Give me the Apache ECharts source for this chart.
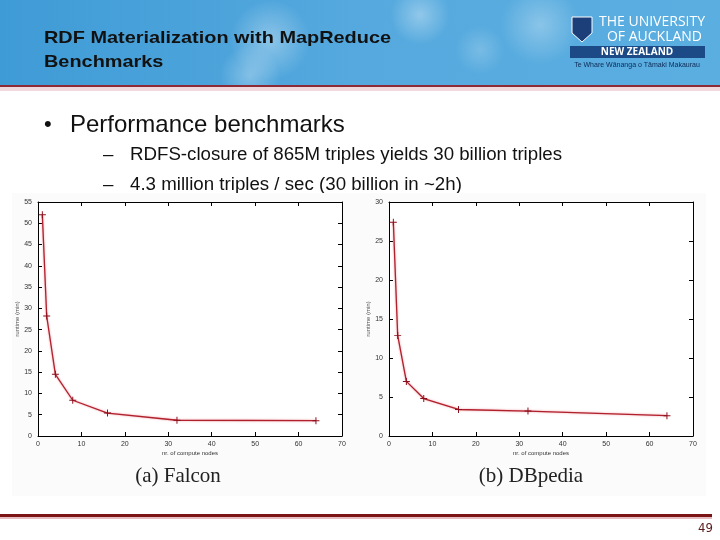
<!DOCTYPE html>
<html>
<head>
<meta charset="utf-8">
<script src="https://cdn.jsdelivr.net/npm/echarts@6/dist/echarts.min.js"></script>
<style>html,body{margin:0;padding:0;background:#fff}#c{width:720px;height:540px}</style>
</head>
<body>
<div id="c"></div>
<script>
// Data
const nodes = [1, 2, 4, 8, 16, 32, 64];
const falconRuntime = [52, 28.2, 14.5, 8.4, 5.4, 3.7, 3.6];
const dbpediaRuntime = [27.4, 12.9, 7.0, 4.8, 3.4, 3.2, 2.6];
const xTicks = [0, 10, 20, 30, 40, 50, 60, 70];
const falconYMax = 55;
const dbpediaYMax = 30;
const titleLines = ['RDF Materialization with MapReduce', 'Benchmarks'];
const bullet = 'Performance benchmarks';
const subBullets = ['RDFS-closure of 865M triples yields 30 billion triples', '4.3 million triples / sec (30 billion in ~2h)'];
const captions = ['(a) Falcon', '(b) DBpedia'];
const pageNo = '49';

const chart = echarts.init(document.getElementById('c'), null, {renderer: 'canvas'});

const grids = [
  {left: 38, top: 202, width: 304, height: 234},
  {left: 389, top: 202, width: 304, height: 234}
];
const lbl = {fontFamily: 'Liberation Sans, Arial', fontSize: 7, color: '#333'};
const tick = {show: true, inside: true, length: 4, lineStyle: {color: '#000', width: 1}};
const axLine = {show: true, onZero: false, lineStyle: {color: '#000', width: 1}};

function xAx(g, pos, showLabel) {
  return {type: 'value', gridIndex: g, position: pos, min: 0, max: xTicks[xTicks.length - 1], interval: 10, z: 10,
    axisLine: axLine, axisTick: tick, splitLine: {show: false},
    axisLabel: Object.assign({show: showLabel, margin: 5}, lbl),
    name: showLabel ? 'nr. of compute nodes' : '', nameLocation: 'middle', nameGap: 14,
    nameTextStyle: {fontFamily: 'Liberation Sans, Arial', fontSize: 6, color: '#333'}};
}
function yAx(g, pos, showLabel, max) {
  return {type: 'value', gridIndex: g, position: pos, min: 0, max: max, interval: 5, z: 10,
    axisLine: axLine, axisTick: tick, splitLine: {show: false},
    axisLabel: Object.assign({show: showLabel, margin: 6}, lbl),
    name: showLabel ? 'runtime (min)' : '', nameLocation: 'middle', nameGap: 14, nameRotate: 90,
    nameTextStyle: {fontFamily: 'Liberation Sans, Arial', fontSize: 6, color: '#555'}};
}
const plus = 'path://M4.3,0H5.7V4.3H10V5.7H5.7V10H4.3V5.7H0V4.3H4.3Z';
function ser(xi, yi, vals) {
  return {type: 'line', xAxisIndex: xi, yAxisIndex: yi,
    data: nodes.map((n, i) => [n, vals[i]]),
    symbol: plus, symbolSize: 7, showSymbol: true,
    itemStyle: {color: '#8a0f1c'},
    lineStyle: {color: '#b0212e', width: 1.3, shadowColor: 'rgba(230,90,100,0.7)', shadowBlur: 2},
    animation: false, z: 12};
}
function cloud(cx, cy, r, a) {
  return {type: 'circle', shape: {cx: cx, cy: cy, r: r}, z: -19,
    style: {fill: new echarts.graphic.RadialGradient(0.5, 0.5, 0.5, [
      {offset: 0, color: 'rgba(255,255,255,' + a + ')'}, {offset: 1, color: 'rgba(255,255,255,0)'}])}};
}

const graphics = [
  {type: 'rect', shape: {x: 0, y: 0, width: 720, height: 86}, z: -20,
    style: {fill: new echarts.graphic.LinearGradient(0, 0, 1, 0, [
      {offset: 0, color: '#3f9bd6'}, {offset: 0.5, color: '#55a9de'}, {offset: 1, color: '#5aaee0'}])}},
  cloud(270, 40, 40, 0.35), cloud(250, 75, 30, 0.3), cloud(420, 15, 30, 0.35), cloud(540, 25, 40, 0.3), cloud(480, 50, 25, 0.2),
  {type: 'rect', shape: {x: 0, y: 85, width: 720, height: 2}, z: -18, style: {fill: '#8c2a35'}},
  {type: 'rect', shape: {x: 0, y: 87, width: 720, height: 4}, z: -18, style: {fill: '#f1d8dc'}},
  {type: 'text', x: 44, y: 38, scaleX: 1.17, z: 10, style: {text: titleLines[0], fill: '#111', font: 'bold 17px "Liberation Sans", Arial', textVerticalAlign: 'middle'}},
  {type: 'text', x: 44, y: 62, scaleX: 1.17, z: 10, style: {text: titleLines[1], fill: '#111', font: 'bold 17px "Liberation Sans", Arial', textVerticalAlign: 'middle'}},
  {type: 'polygon', shape: {points: [[572, 17], [592, 17], [592, 33], [582, 42], [572, 33]]}, z: 10, style: {fill: '#1c3f7a', stroke: '#fff', lineWidth: 1}},
  {type: 'text', x: 705, y: 22, z: 10, style: {text: 'THE UNIVERSITY', fill: '#fff', font: '14px "Open Sans", "Liberation Sans"', textAlign: 'right', textVerticalAlign: 'middle'}},
  {type: 'text', x: 702, y: 37, z: 10, style: {text: 'OF AUCKLAND', fill: '#fff', font: '14px "Open Sans", "Liberation Sans"', textAlign: 'right', textVerticalAlign: 'middle'}},
  {type: 'rect', shape: {x: 570, y: 46, width: 135, height: 12}, z: 10, style: {fill: '#1b4a86'}},
  {type: 'text', x: 637, y: 52, z: 11, style: {text: 'NEW ZEALAND', fill: '#fff', font: 'bold 10px "Open Sans", "Liberation Sans"', textAlign: 'center', textVerticalAlign: 'middle'}},
  {type: 'text', x: 637, y: 65, z: 10, style: {text: 'Te Whare Wānanga o Tāmaki Makaurau', fill: '#0d2a55', font: '7px "Liberation Sans Narrow", "Liberation Sans"', textAlign: 'center', textVerticalAlign: 'middle'}},
  {type: 'text', x: 44, y: 125, z: 1, style: {text: '•', fill: '#111', font: '22px "Liberation Sans", Arial', textVerticalAlign: 'middle'}},
  {type: 'text', x: 70, y: 125, z: 1, style: {text: bullet, fill: '#111', font: '24px "Liberation Sans", Arial', textVerticalAlign: 'middle'}},
  {type: 'text', x: 103, y: 155, z: 1, style: {text: '–', fill: '#111', font: '18.7px "Liberation Sans", Arial', textVerticalAlign: 'middle'}},
  {type: 'text', x: 130, y: 155, z: 1, style: {text: subBullets[0], fill: '#111', font: '18.7px "Liberation Sans", Arial', textVerticalAlign: 'middle'}},
  {type: 'text', x: 103, y: 185, z: 1, style: {text: '–', fill: '#111', font: '18.7px "Liberation Sans", Arial', textVerticalAlign: 'middle'}},
  {type: 'text', x: 130, y: 185, z: 1, style: {text: subBullets[1], fill: '#111', font: '18.7px "Liberation Sans", Arial', textVerticalAlign: 'middle'}},
  {type: 'rect', shape: {x: 12, y: 193, width: 694, height: 303}, z: 2, style: {fill: '#fbfbfb'}},
  {type: 'text', x: 178, y: 476, z: 10, style: {text: captions[0], fill: '#222', font: '21px "Liberation Serif", "DejaVu Serif", serif', textAlign: 'center', textVerticalAlign: 'middle'}},
  {type: 'text', x: 531, y: 476, z: 10, style: {text: captions[1], fill: '#222', font: '21px "Liberation Serif", "DejaVu Serif", serif', textAlign: 'center', textVerticalAlign: 'middle'}},
  {type: 'rect', shape: {x: 0, y: 514, width: 712, height: 3}, z: 10, style: {fill: '#7a1414'}},
  {type: 'rect', shape: {x: 0, y: 517, width: 712, height: 2}, z: 10, style: {fill: '#e6bcc2'}},
  {type: 'text', x: 713, y: 529, z: 10, style: {text: pageNo, fill: '#5a1a1a', font: '13px "Liberation Sans Narrow", "DejaVu Sans Condensed", sans-serif', textAlign: 'right', textVerticalAlign: 'middle'}}
];

chart.setOption({
  animation: false,
  backgroundColor: '#fff',
  grid: grids.map(g => Object.assign({show: true, backgroundColor: '#fff', borderWidth: 0, z: 3}, g)),
  xAxis: [xAx(0, 'bottom', true), xAx(0, 'top', false), xAx(1, 'bottom', true), xAx(1, 'top', false)],
  yAxis: [yAx(0, 'left', true, falconYMax), yAx(0, 'right', false, falconYMax), yAx(1, 'left', true, dbpediaYMax), yAx(1, 'right', false, dbpediaYMax)],
  series: [ser(0, 0, falconRuntime), ser(2, 2, dbpediaRuntime)],
  graphic: {elements: graphics}
});
</script>
</body>
</html>
